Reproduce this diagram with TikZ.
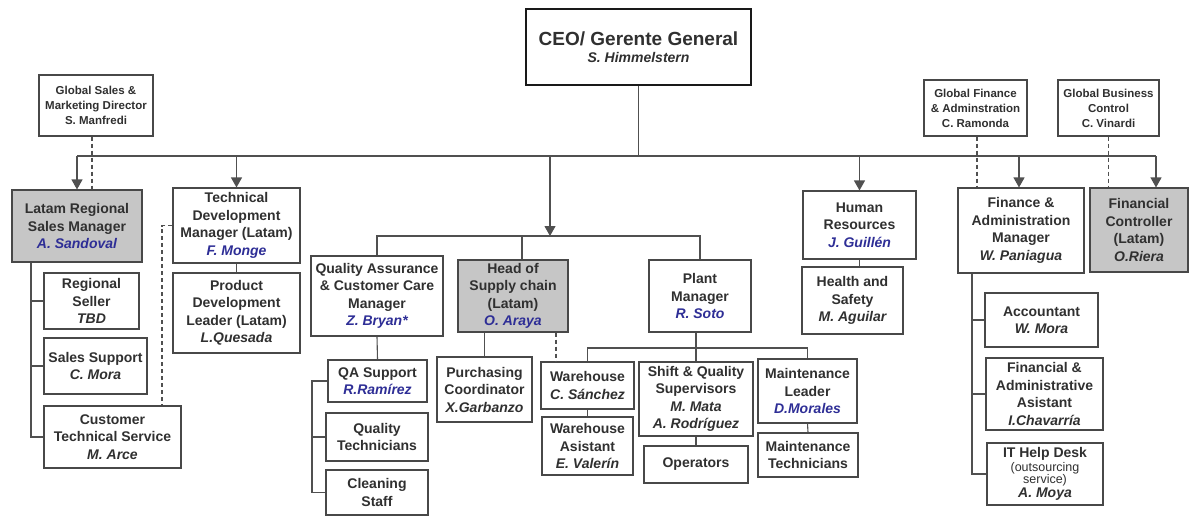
\documentclass[tikz,border=0pt]{standalone}
\usepackage{fontspec}
\setmainfont{Liberation Sans}
\usetikzlibrary{arrows.meta}

\definecolor{ink}{HTML}{303030}
\definecolor{edge}{HTML}{484848}
\definecolor{wire}{HTML}{505050}
\definecolor{shade}{HTML}{C6C6C6}
\definecolor{namblue}{HTML}{2E2E96}

\newcommand\who[1]{{\itshape #1}}
\newcommand\bwho[1]{{\itshape\color{namblue}#1}}
\newcommand\note[1]{{\mdseries\fontsize{12.5}{13}\selectfont #1}}

\tikzset{
  unit/.style={draw=edge, line width=1.1pt, fill=white, align=center,
    inner sep=0pt, text=ink, font=\bfseries\fontsize{14}{17.5}\selectfont},
  globalunit/.style={unit, font=\bfseries\fontsize{11.5}{15}\selectfont},
  greyunit/.style={unit, fill=shade},
  sz/.style 2 args={minimum width=#1pt, minimum height=#2pt},
  wire/.style={draw=wire, line width=1.1pt},
  arr/.style={wire, -{Triangle[width=11pt,length=10pt]}},
  dashline/.style={wire, dash pattern=on 4pt off 3pt},
}

\begin{document}
\begin{tikzpicture}[x=1pt, y=-1pt]
\useasboundingbox (0,0) rectangle (1190,516);

% top level
\node[unit, sz={225}{76}, draw=black!90, line width=2pt] (ceo) at (638.5,47)
  {{\fontsize{19}{22}\selectfont CEO/ Gerente General}\\\who{S. Himmelstern}};
\node[globalunit, sz={114}{61}] (gsales) at (96,105.5)
  {Global Sales \&\\Marketing Director\\S. Manfredi};
\node[globalunit, sz={103}{56}] (gfin) at (975.5,108)
  {Global Finance\\\& Adminstration\\C. Ramonda};
\node[globalunit, sz={101}{56}] (gbus) at (1108.5,108)
  {Global Business\\Control\\C. Vinardi};

% second level
\node[greyunit, sz={130}{72}] (latam) at (77,226)
  {Latam Regional\\Sales Manager\\\bwho{A. Sandoval}};
\node[unit, sz={127}{75}] (techdev) at (236.5,225.5)
  {Technical\\Development\\Manager (Latam)\\\bwho{F. Monge}};
\node[unit, sz={113}{68}] (hr) at (859.5,225)
  {Human\\Resources\\\bwho{J. Guillén}};
\node[unit, sz={126}{85}] (fin) at (1021,230.5)
  {Finance \&\\Administration\\Manager\\\who{W. Paniagua}};
\node[greyunit, sz={98}{84}] (fctrl) at (1139,230)
  {Financial\\Controller\\(Latam)\\\who{O.Riera}};

% sales branch
\node[unit, sz={95}{56}] (regseller) at (91.5,301)
  {Regional\\Seller\\\who{TBD}};
\node[unit, sz={103}{56}] (salessup) at (95.5,366)
  {Sales Support\\\who{C. Mora}};
\node[unit, sz={137}{62}] (cts) at (112.5,437)
  {Customer\\Technical Service\\\who{M. Arce}};
\node[unit, sz={127}{80}] (proddev) at (236.5,313)
  {Product\\Development\\Leader (Latam)\\\who{L.Quesada}};

% operations branch
\node[unit, sz={132}{80}] (qa) at (377,296)
  {Quality Assurance\\\& Customer Care\\Manager\\\bwho{Z. Bryan*}};
\node[greyunit, sz={110}{72}] (supply) at (513,296)
  {Head of\\Supply chain\\(Latam)\\\bwho{O. Araya}};
\node[unit, sz={102}{72}] (plant) at (700,296)
  {Plant\\Manager\\\bwho{R. Soto}};
\node[unit, sz={99}{42}] (qasup) at (377.5,381)
  {QA Support\\\bwho{R.Ramírez}};
\node[unit, sz={102}{48}] (qtech) at (377,437)
  {Quality\\Technicians};
\node[unit, sz={102}{45}] (clean) at (377,492.5)
  {Cleaning\\Staff};
\node[unit, sz={95}{65}] (purch) at (484.5,389.5)
  {Purchasing\\Coordinator\\\who{X.Garbanzo}};
\node[unit, sz={93}{47}] (wh) at (587.5,385.5)
  {Warehouse\\\who{C. Sánchez}};
\node[unit, sz={91}{58}] (wha) at (587.5,446)
  {Warehouse\\Asistant\\\who{E. Valerín}};
\node[unit, sz={114}{74}] (shift) at (696,399)
  {Shift \& Quality\\Supervisors\\\who{M. Mata}\\\who{A. Rodríguez}};
\node[unit, sz={104}{37}] (ops) at (696,464.5) {Operators};
\node[unit, sz={99}{64}] (mleader) at (807.5,391)
  {Maintenance\\Leader\\\bwho{D.Morales}};
\node[unit, sz={100}{44}] (mtech) at (808,455)
  {Maintenance\\Technicians};
\node[unit, sz={101}{67}] (hs) at (852.5,300.5)
  {Health and\\Safety\\\who{M. Aguilar}};

% finance branch
\node[unit, sz={113}{54}] (acct) at (1041.5,320)
  {Accountant\\\who{W. Mora}};
\node[unit, sz={117}{72}] (finasst) at (1044.5,394)
  {Financial \&\\Administrative\\Asistant\\\who{I.Chavarría}};
\node[unit, sz={116}{62}] (it) at (1045,474)
  {IT Help Desk\\[-4pt]\note{(outsourcing}\\[-5pt]\note{service)}\\[-4pt]\who{A. Moya}};

% bus lines
\coordinate (bus) at (0,156);
\coordinate (sub) at (0,236);
\coordinate (pbus) at (0,348);
\coordinate (mid) at (550,236);

\draw[wire] (ceo.south) -- (ceo.south |- bus);
\draw[wire] (latam.north |- bus) -- ([xshift=17pt]fctrl.north |- bus);
\draw[arr] (latam.north |- bus) -- (latam.north);
\draw[arr] (techdev.north |- bus) -- (techdev.north);
\draw[arr] (mid |- bus) -- (mid);
\draw[arr] (hr.north |- bus) -- (hr.north);
\draw[arr] ([xshift=-2pt]fin.north |- bus) -- ([xshift=-2pt]fin.north);
\draw[arr] ([xshift=17pt]fctrl.north |- bus) -- ([xshift=17pt]fctrl.north);

% dotted-line reporting
\draw[dashline] ([xshift=-4pt]gsales.south) -- ([xshift=-4pt]gsales.south |- latam.north);
\draw[dashline] ([xshift=1.5pt]gfin.south) -- ([xshift=1.5pt]gfin.south |- fin.north);
\draw[dashline] (gbus.south) -- (gbus.south |- fctrl.north);
\coordinate (dtap) at (162,0);
\draw[dashline] (techdev.west) -| (dtap |- cts.north);
\coordinate (dwh) at (556,0);
\draw[dashline] (dwh |- supply.south) -- (dwh |- wh.north);

% sales tree
\coordinate (lsp) at (31,0);
\draw[wire] (lsp |- latam.south) |- (cts.west);
\draw[wire] (lsp |- regseller.west) -- (regseller.west);
\draw[wire] (lsp |- salessup.west) -- (salessup.west);
\draw[wire] (techdev.south) -- (proddev.north);

% operations tree
\draw[wire] (qa.north) -- (qa.north |- sub) -| (plant.north);
\draw[wire] ([xshift=9pt]supply.north) -- ([xshift=9pt]supply.north |- sub);
\draw[wire] (qa.south) -- (qasup.north);
\coordinate (qsp) at (312,0);
\draw[wire] (qasup.west) -| (qsp |- clean.west) -- (clean.west);
\draw[wire] (qsp |- qtech.west) -- (qtech.west);
\draw[wire] (purch.north |- supply.south) -- (purch.north);
\draw[wire] (shift.north |- plant.south) -- (shift.north);
\draw[wire] (wh.north) -- (wh.north |- pbus) -- (mleader.north |- pbus) -- (mleader.north);
\draw[wire] (wh.south) -- (wha.north);
\draw[wire] (shift.south) -- (ops.north);
\draw[wire] (mleader.south) -- (mtech.north);
\draw[wire] (hr.south) -- (hr.south |- hs.north);

% finance tree
\coordinate (fsp) at (972,0);
\draw[wire] (fsp |- fin.south) |- (it.west);
\draw[wire] (fsp |- acct.west) -- (acct.west);
\draw[wire] (fsp |- finasst.west) -- (finasst.west);
\end{tikzpicture}
\end{document}
